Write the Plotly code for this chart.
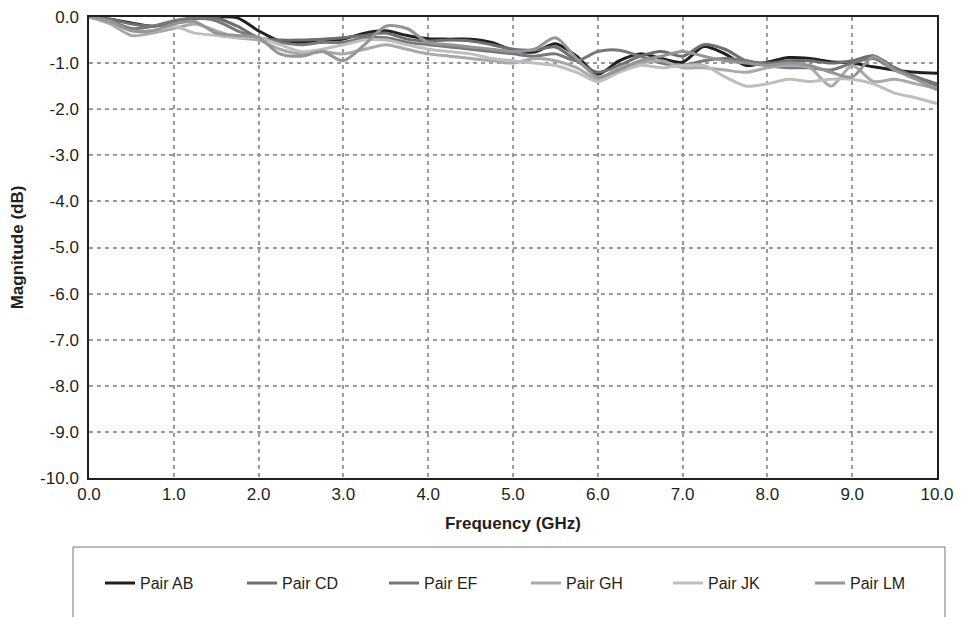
import plotly.graph_objects as go

freq_ghz = [0.0, 0.25, 0.5, 0.75, 1.0, 1.25, 1.5, 1.75, 2.0, 2.25, 2.5, 2.75, 3.0, 3.25, 3.5, 3.75,
            4.0, 4.25, 4.5, 4.75, 5.0, 5.25, 5.5, 5.75, 6.0, 6.25, 6.5, 6.75, 7.0, 7.25, 7.5, 7.75,
            8.0, 8.25, 8.5, 8.75, 9.0, 9.25, 9.5, 9.75, 10.0]

pair_ab = [0, -0.05, -0.13, -0.2, -0.12, -0.04, 0.0, -0.02, -0.3, -0.52, -0.55, -0.54, -0.48, -0.35, -0.3, -0.4,
           -0.47, -0.48, -0.48, -0.55, -0.72, -0.76, -0.58, -0.85, -1.24, -0.95, -0.8, -0.9, -0.98, -0.64, -0.8, -1.05,
           -0.98, -0.88, -0.9, -0.97, -1.0, -1.08, -1.15, -1.2, -1.22]
pair_cd = [0, -0.05, -0.15, -0.2, -0.1, -0.03, -0.02, -0.2, -0.45, -0.5, -0.5, -0.48, -0.45, -0.4, -0.35, -0.48,
           -0.52, -0.5, -0.52, -0.6, -0.7, -0.72, -0.65, -0.95, -1.2, -1.05, -0.85, -0.75, -0.85, -0.6, -0.7, -0.95,
           -1.0, -0.95, -0.95, -1.0, -0.95, -0.84, -1.1, -1.3, -1.45]
pair_ef = [0, -0.08, -0.25, -0.2, -0.08, -0.02, -0.08, -0.3, -0.45, -0.55, -0.6, -0.55, -0.55, -0.45, -0.45, -0.55,
           -0.6, -0.65, -0.7, -0.75, -0.8, -0.85, -0.8, -0.95, -0.75, -0.72, -0.85, -1.0, -1.05, -0.95, -0.9, -0.95,
           -1.05, -1.1, -1.1, -1.15, -1.0, -0.9, -1.15, -1.3, -1.5]
pair_gh = [0, -0.15, -0.4, -0.35, -0.25, -0.15, -0.3, -0.45, -0.5, -0.7, -0.8, -0.75, -0.8, -0.7, -0.6, -0.7,
           -0.8, -0.85, -0.9, -0.95, -1.0, -0.9, -0.95, -1.1, -1.35, -1.1, -1.0, -0.95, -1.1, -1.1, -1.15, -1.2,
           -1.1, -1.05, -1.1, -1.5, -1.05, -1.4, -1.35, -1.45, -1.55]
pair_jk = [0, -0.1, -0.3, -0.3, -0.2, -0.35, -0.4, -0.45, -0.45, -0.6, -0.75, -0.7, -0.6, -0.5, -0.5, -0.6,
           -0.7, -0.75, -0.8, -0.9, -0.95, -1.0, -1.05, -1.2, -1.4, -1.2, -1.05, -1.1, -1.05, -1.05, -1.3, -1.5,
           -1.45, -1.35, -1.4, -1.35, -1.35, -1.45, -1.65, -1.75, -1.88]
pair_lm = [0, -0.1, -0.3, -0.3, -0.15, -0.1, -0.35, -0.4, -0.45, -0.8, -0.85, -0.75, -0.95, -0.6, -0.2, -0.25,
           -0.55, -0.6, -0.65, -0.7, -0.75, -0.7, -0.45, -0.9, -1.3, -1.15, -0.95, -0.85, -0.75, -0.85, -0.95, -1.0,
           -1.05, -1.0, -1.05, -1.2, -1.3, -0.86, -1.15, -1.35, -1.58]

series_names = ["Pair AB", "Pair CD", "Pair EF", "Pair GH", "Pair JK", "Pair LM"]
series_values = [pair_ab, pair_cd, pair_ef, pair_gh, pair_jk, pair_lm]
series_colors = ["#231f20", "#6d6e71", "#77787b", "#a7a9ac", "#bcbec0", "#939598"]

x_ticks = [0, 1, 2, 3, 4, 5, 6, 7, 8, 9, 10]
x_tick_labels = ["0.0", "1.0", "2.0", "3.0", "4.0", "5.0", "6.0", "7.0", "8.0", "9.0", "10.0"]
y_ticks = [0, -1, -2, -3, -4, -5, -6, -7, -8, -9, -10]
y_tick_labels = ["0.0", "-1.0", "-2.0", "-3.0", "-4.0", "-5.0", "-6.0", "-7.0", "-8.0", "-9.0", "-10.0"]

FONT = "Liberation Sans, Arial, sans-serif"

fig = go.Figure()
for name, vals, col in zip(series_names, series_values, series_colors):
    fig.add_trace(go.Scatter(x=freq_ghz, y=vals, name=name, mode="lines",
                             line=dict(color=col, width=3, shape="spline", smoothing=0.8)))

axis_common = dict(showline=True, mirror=True, linecolor="#231f20", linewidth=1.5,
                   showgrid=True, gridcolor="#9a9a9a", gridwidth=2, griddash="4px,4px",
                   zeroline=False, ticks="", automargin=False, ticklabeloverflow="allow",
                   tickfont=dict(family=FONT, size=17, color="#231f20"))

# page body has an 8px default margin, so the figure is offset by 8px
fig.update_layout(
    width=962, height=617,
    margin=dict(l=81, r=33, t=9, b=147, autoexpand=False),
    paper_bgcolor="white", plot_bgcolor="white",
    font=dict(family=FONT, color="#231f20"),
    xaxis=dict(range=[0, 10], tickvals=x_ticks, ticktext=x_tick_labels,
               title=dict(text="<b>Frequency (GHz)</b>", font=dict(size=17), standoff=14),
               **axis_common),
    yaxis=dict(range=[-10, 0], tickvals=y_ticks, ticktext=y_tick_labels, ticklabelstandoff=5,
               title=dict(text="<b>Magnitude (dB)</b>", font=dict(size=17), standoff=12),
               **axis_common),
    legend=dict(orientation="h", x=0.0130, xanchor="left", y=-0.228, yanchor="middle",
                font=dict(family=FONT, size=16, color="#231f20"),
                entrywidth=97, entrywidthmode="pixels", bgcolor="rgba(0,0,0,0)"),
    shapes=[dict(type="rect", xref="paper", yref="paper",
                 x0=-0.0189, x1=1.0094, y0=-0.1497, y1=-0.33,
                 line=dict(color="#777777", width=1), fillcolor="rgba(0,0,0,0)")],
)

fig.write_html("out.html")
